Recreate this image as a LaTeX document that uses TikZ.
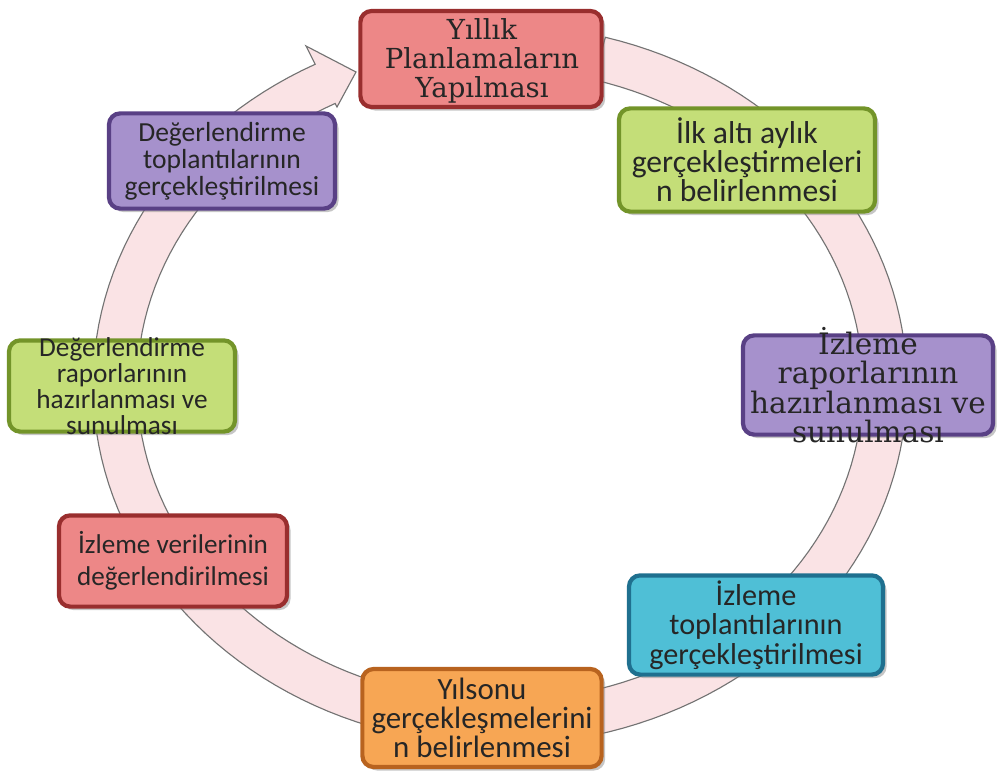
\documentclass[tikz,border=0pt]{standalone}
\usepackage{fontspec}
\newfontfamily\boxsans{Carlito}
\newfontfamily\boxserif{DejaVu Serif}
\definecolor{planred}{rgb}{0.93, 0.53, 0.53}
\definecolor{planredrim}{rgb}{0.6, 0.18, 0.18}
\definecolor{ilkgreen}{rgb}{0.77, 0.87, 0.47}
\definecolor{ilkgreenrim}{rgb}{0.45, 0.58, 0.16}
\definecolor{izpurple}{rgb}{0.65, 0.57, 0.8}
\definecolor{izpurplerim}{rgb}{0.35, 0.25, 0.52}
\definecolor{izblue}{rgb}{0.31, 0.75, 0.84}
\definecolor{izbluerim}{rgb}{0.12, 0.44, 0.56}
\definecolor{ysorange}{rgb}{0.97, 0.65, 0.33}
\definecolor{ysorangerim}{rgb}{0.72, 0.39, 0.12}
\definecolor{ringpink}{rgb}{0.98, 0.89, 0.9}
\usetikzlibrary{shadows}

\begin{document}
\begin{tikzpicture}[x=0.025cm, y=-0.025cm,
    stepbox/.style={rounded corners=8pt, line width=3pt,
        drop shadow={shadow xshift=2.5pt, shadow yshift=-2.5pt, opacity=0.45}},
    steptext/.style={align=center, text=black!85, inner sep=0pt},
    sanstext/.style 2 args={steptext, font=\boxsans\fontsize{#1pt}{#2pt}\selectfont},
    seriftext/.style 2 args={steptext, font=\boxserif\fontsize{#1pt}{#2pt}\selectfont}]
    \useasboundingbox (0,0) rectangle (1001,776);

    \def \cx {500}
    \def \cy {385}
    \def \ra {385} % x radius of the ring
    \def \rb {338} % y radius of the ring
    \def \rw {22}  % half width of the ring

    %% the ring arrow, clockwise from the top box round to its left side
    \coordinate (wingout) at (306,46);
    \coordinate (tip) at (356,72);
    \coordinate (wingin) at (337,107);
    \filldraw [fill=ringpink, draw=gray!90!black, line width=0.8pt]
        plot [domain=75:-243, samples=150] ({\cx+(\ra+\rw)*cos(\x)}, {\cy-(\rb+\rw)*sin(\x)})
        -- (wingout) -- (tip) -- (wingin)
        -- plot [domain=-243:75, samples=150] ({\cx+(\ra-\rw)*cos(\x)}, {\cy-(\rb-\rw)*sin(\x)})
        -- cycle;

    %%%%%%%%%%%%%%%%%%%%%%%%%%%%%%%%

    \node [stepbox, fill=planred, draw=planredrim, minimum width=6.03cm, minimum height=2.4cm] (plan) at (481,59) {};
    \node [seriftext={19.6}{20.6}] (plan-text) at (482,61) {Yıllık\\Planlamaların\\Yapılması};

    \node [stepbox, fill=ilkgreen, draw=ilkgreenrim, minimum width=6.4cm, minimum height=2.58cm] (ilk) at (747,160) {};
    \node [sanstext={22.5}{20.6}] (ilk-text) at (ilk) {İlk altı aylık\\gerçekleştirmeleri\\n belirlenmesi};

    \node [stepbox, fill=izpurple, draw=izpurplerim, minimum width=6.25cm, minimum height=2.48cm] (izrapor) at (868,385) {};
    \node [seriftext={21}{21}] (izrapor-text) at (izrapor) {İzleme\\raporlarının\\hazırlanması ve\\sunulması};

    \node [stepbox, fill=izblue, draw=izbluerim, minimum width=6.35cm, minimum height=2.48cm] (iztop) at (756,625) {};
    \node [sanstext={21.5}{21}] (iztop-text) at (iztop) {İzleme\\toplantılarının\\gerçekleştirilmesi};

    \node [stepbox, fill=ysorange, draw=ysorangerim, minimum width=5.98cm, minimum height=2.45cm] (yilsonu) at (482,718) {};
    \node [sanstext={22}{20.6}] (yilsonu-text) at (yilsonu) {Yılsonu\\gerçekleşmelerini\\n belirlenmesi};

    \node [stepbox, fill=planred, draw=planredrim, minimum width=5.7cm, minimum height=2.28cm] (izveri) at (173,561) {};
    \node [sanstext={19.3}{22.8}] (izveri-text) at (izveri) {İzleme verilerinin\\değerlendirilmesi};

    \node [stepbox, fill=ilkgreen, draw=ilkgreenrim, minimum width=5.65cm, minimum height=2.28cm] (degrapor) at (122,386) {};
    \node [sanstext={19.4}{18.5}] (degrapor-text) at (degrapor) {Değerlendirme\\raporlarının\\hazırlanması ve\\sunulması};

    \node [stepbox, fill=izpurple, draw=izpurplerim, minimum width=5.65cm, minimum height=2.38cm] (degtop) at (222,161) {};
    \node [sanstext={19.6}{19.2}] (degtop-text) at (degtop) {Değerlendirme\\toplantılarının\\gerçekleştirilmesi};

\end{tikzpicture}
\end{document}
